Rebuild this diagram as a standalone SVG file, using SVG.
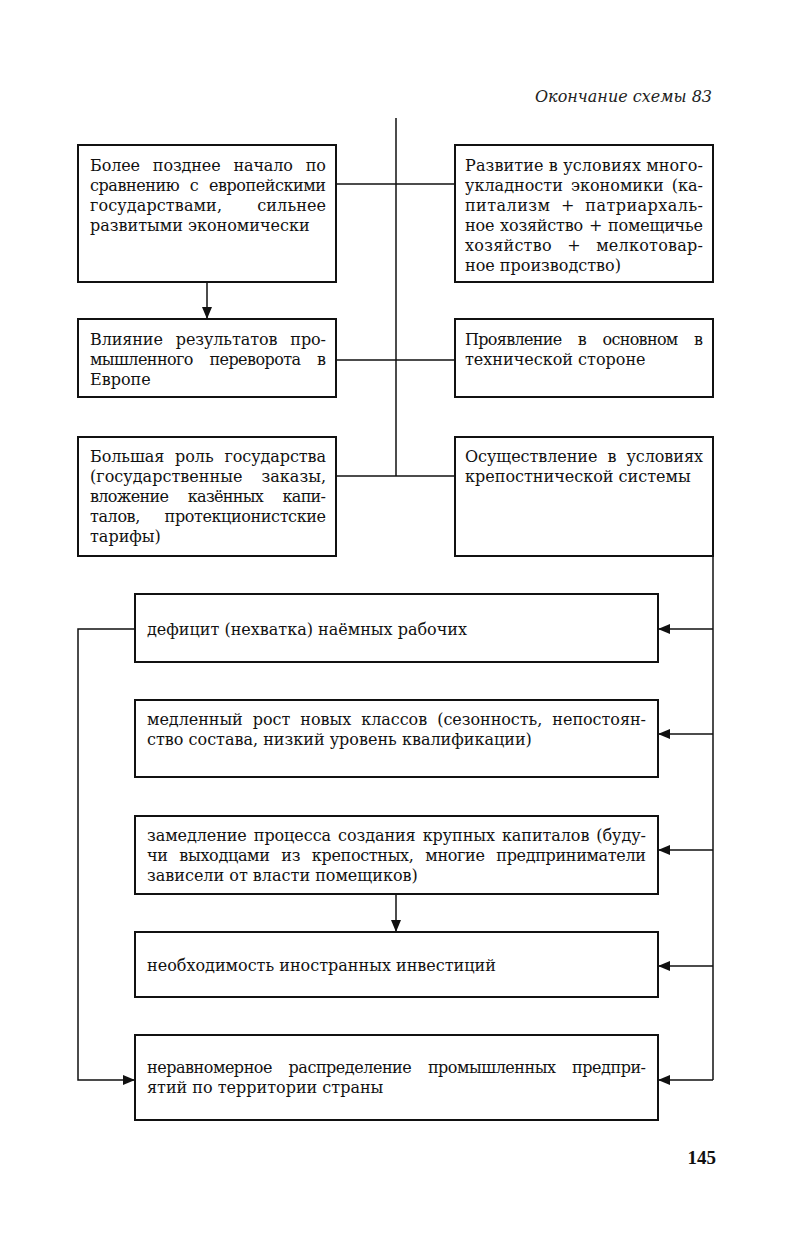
<svg xmlns="http://www.w3.org/2000/svg" width="791" height="1245" viewBox="0 0 791 1245">
<defs>
<marker id="ah" markerWidth="12" markerHeight="10" refX="11" refY="5" orient="auto" markerUnits="userSpaceOnUse">
<path d="M0,0 L12,5 L0,10 z" fill="#111"/>
</marker>
<style>
.box{fill:#fff;stroke:#111;stroke-width:2}
.ln{fill:none;stroke:#111;stroke-width:1.5}
.t{font-family:"DejaVu Serif","Liberation Serif",serif;font-size:16px;fill:#111}
.hdr{font-family:"DejaVu Serif","Liberation Serif",serif;font-size:16px;font-style:italic;fill:#222}
.pg{font-family:"Liberation Serif","DejaVu Serif",serif;font-size:19px;font-weight:bold;fill:#111}
</style>
</defs>
<rect width="791" height="1245" fill="#fff"/>
<text class="hdr" x="712" y="102" text-anchor="end" textLength="177" lengthAdjust="spacingAndGlyphs">Окончание схемы 83</text>

<g id="connectors">
<line class="ln" x1="396" y1="118" x2="396" y2="476"/>
<line class="ln" x1="336" y1="184" x2="455" y2="184"/>
<line class="ln" x1="336" y1="360" x2="455" y2="360"/>
<line class="ln" x1="336" y1="476" x2="455" y2="476"/>
<line class="ln" x1="207" y1="282" x2="207" y2="318" marker-end="url(#ah)"/>
<polyline class="ln" points="713,556 713,1080"/>
<line class="ln" x1="713" y1="629" x2="659" y2="629" marker-end="url(#ah)"/>
<line class="ln" x1="713" y1="734" x2="659" y2="734" marker-end="url(#ah)"/>
<line class="ln" x1="713" y1="850" x2="659" y2="850" marker-end="url(#ah)"/>
<line class="ln" x1="713" y1="966" x2="659" y2="966" marker-end="url(#ah)"/>
<line class="ln" x1="713" y1="1080" x2="659" y2="1080" marker-end="url(#ah)"/>
<polyline class="ln" points="135,629 78,629 78,1080 134,1080" marker-end="url(#ah)"/>
<line class="ln" x1="396" y1="894" x2="396" y2="931" marker-end="url(#ah)"/>
</g>

<g id="n1">
<rect class="box" x="78" y="145" width="258" height="137"/>
<text class="t" x="90" y="171" word-spacing="8" textLength="236" lengthAdjust="spacing">Более позднее начало по</text>
<text class="t" x="90" y="191" word-spacing="6" textLength="236" lengthAdjust="spacing">сравнению с европейскими</text>
<text class="t" x="90" y="211" word-spacing="30" textLength="236" lengthAdjust="spacing">государствами, сильнее</text>
<text class="t" x="90" y="231">развитыми экономически</text>
</g>
<g id="n2">
<rect class="box" x="455" y="145" width="258" height="137"/>
<text class="t" x="465" y="171" word-spacing="0" textLength="238" lengthAdjust="spacing">Развитие в условиях много-</text>
<text class="t" x="465" y="191" word-spacing="3" textLength="238" lengthAdjust="spacing">укладности экономики (ка-</text>
<text class="t" x="465" y="211" word-spacing="5" textLength="238" lengthAdjust="spacing">питализм + патриархаль-</text>
<text class="t" x="465" y="231" word-spacing="1" textLength="238" lengthAdjust="spacing">ное хозяйство + помещичье</text>
<text class="t" x="465" y="251" word-spacing="10" textLength="238" lengthAdjust="spacing">хозяйство + мелкотовар-</text>
<text class="t" x="465" y="271">ное производство)</text>
</g>
<g id="n3">
<rect class="box" x="78" y="319" width="258" height="78"/>
<text class="t" x="90" y="345" word-spacing="8" textLength="236" lengthAdjust="spacing">Влияние результатов про-</text>
<text class="t" x="90" y="365" word-spacing="12" textLength="236" lengthAdjust="spacing">мышленного переворота в</text>
<text class="t" x="90" y="385">Европе</text>
</g>
<g id="n4">
<rect class="box" x="455" y="319" width="258" height="78"/>
<text class="t" x="465" y="345" word-spacing="12" textLength="238" lengthAdjust="spacing">Проявление в основном в</text>
<text class="t" x="465" y="365">технической стороне</text>
</g>
<g id="n5">
<rect class="box" x="78" y="437" width="258" height="119"/>
<text class="t" x="90" y="462" word-spacing="6" textLength="236" lengthAdjust="spacing">Большая роль государства</text>
<text class="t" x="90" y="482" word-spacing="14" textLength="236" lengthAdjust="spacing">(государственные заказы,</text>
<text class="t" x="90" y="502" word-spacing="15" textLength="236" lengthAdjust="spacing">вложение казённых капи-</text>
<text class="t" x="90" y="522" word-spacing="20" textLength="236" lengthAdjust="spacing">талов, протекционистские</text>
<text class="t" x="90" y="542">тарифы)</text>
</g>
<g id="n6">
<rect class="box" x="455" y="437" width="258" height="119"/>
<text class="t" x="465" y="462" word-spacing="5" textLength="238" lengthAdjust="spacing">Осуществление в условиях</text>
<text class="t" x="465" y="482">крепостнической системы</text>
</g>
<g id="n7">
<rect class="box" x="135" y="594" width="523" height="68"/>
<text class="t" x="147" y="635">дефицит (нехватка) наёмных рабочих</text>
</g>
<g id="n8">
<rect class="box" x="135" y="700" width="523" height="77"/>
<text class="t" x="147" y="725" word-spacing="5" textLength="499" lengthAdjust="spacing">медленный рост новых классов (сезонность, непостоян-</text>
<text class="t" x="147" y="745">ство состава, низкий уровень квалификации)</text>
</g>
<g id="n9">
<rect class="box" x="135" y="816" width="523" height="78"/>
<text class="t" x="147" y="841" word-spacing="2" textLength="499" lengthAdjust="spacing">замедление процесса создания крупных капиталов (буду-</text>
<text class="t" x="147" y="861" word-spacing="7" textLength="499" lengthAdjust="spacing">чи выходцами из крепостных, многие предприниматели</text>
<text class="t" x="147" y="881">зависели от власти помещиков)</text>
</g>
<g id="n10">
<rect class="box" x="135" y="932" width="523" height="65"/>
<text class="t" x="147" y="971">необходимость иностранных инвестиций</text>
</g>
<g id="n11">
<rect class="box" x="135" y="1035" width="523" height="85"/>
<text class="t" x="147" y="1073" word-spacing="12" textLength="499" lengthAdjust="spacing">неравномерное распределение промышленных предпри-</text>
<text class="t" x="147" y="1093">ятий по территории страны</text>
</g>
<text class="pg" x="716" y="1164" text-anchor="end">145</text>
</svg>
